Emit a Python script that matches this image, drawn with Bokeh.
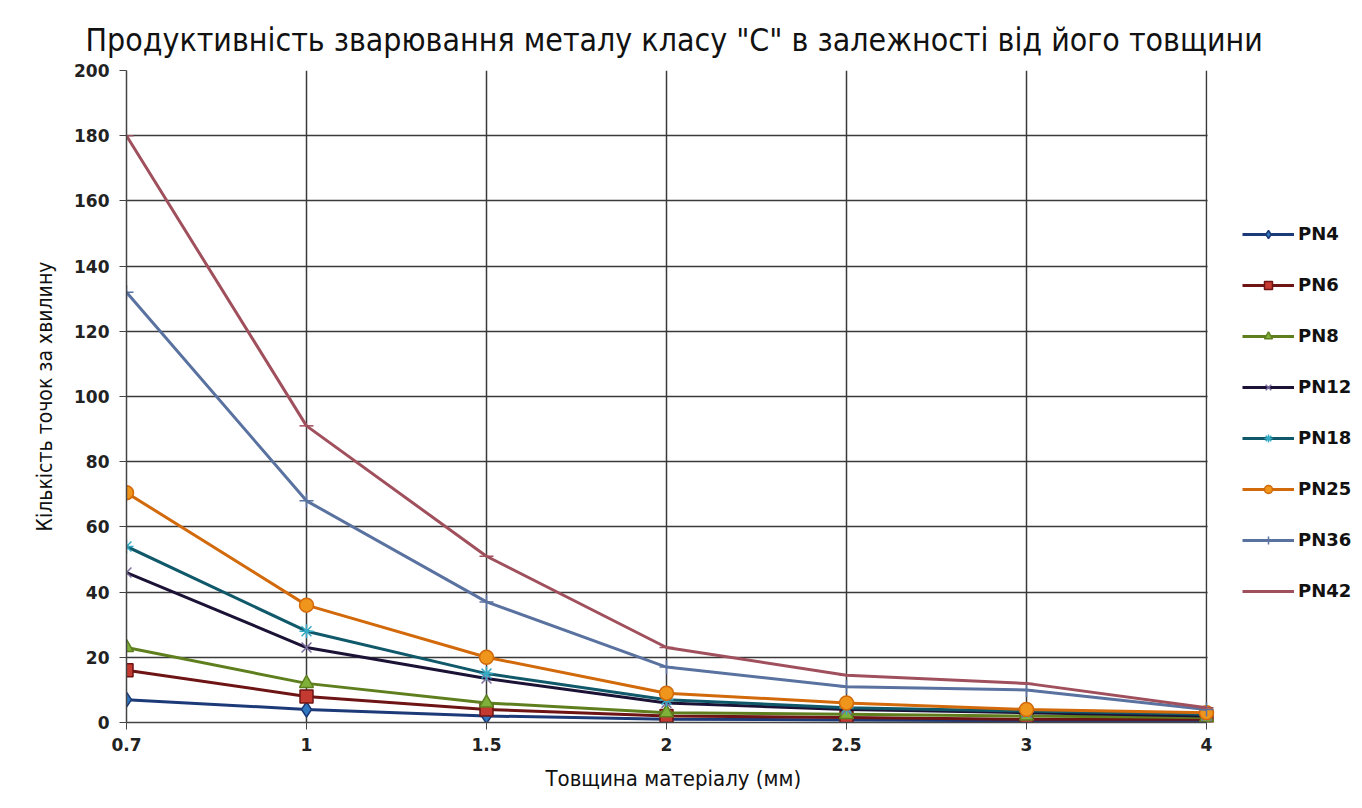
from bokeh.plotting import figure
from bokeh.models import Range1d, FixedTicker, Legend, Title, BoxAnnotation
from bokeh.embed import file_html
from bokeh.resources import INLINE

x_labels = ["0.7", "1", "1.5", "2", "2.5", "3", "4"]
pn4 = [7, 4, 2, 1, 0.8, 0.5, 0.5]
pn6 = [16, 8, 4, 2, 1.5, 1, 1]
pn8 = [23, 12, 6, 3, 2.5, 2, 1.5]
pn12 = [46, 23, 13.5, 6, 4, 3, 2]
pn18 = [54, 28, 15, 7, 4.5, 3.5, 2.5]
pn25 = [70.5, 36, 20, 9, 6, 4, 3]
pn36 = [132, 68, 37, 17, 11, 10, 4]
pn42 = [180, 91, 51, 23, 14.5, 12, 4.5]

series = [
    ("PN4", pn4, "#1c3a78", "#2f78c0", "diamond", 15),
    ("PN6", pn6, "#6e1414", "#c43a30", "square", 13),
    ("PN8", pn8, "#5f7f1e", "#7fb13a", "triangle", 14),
    ("PN12", pn12, "#1c1236", "#7b6d9e", "x", 14),
    ("PN18", pn18, "#10596a", "#35aac4", "asterisk", 14),
    ("PN25", pn25, "#d2690a", "#f0951c", "circle", 14),
    ("PN36", pn36, "#5a72a0", "#5a72a0", "cross", 14),
    ("PN42", pn42, "#a0505c", "#a0505c", "dash", 14),
]

xs = list(range(len(x_labels)))
last = len(x_labels) - 1

NARROW = "DejaVu Sans Condensed, DejaVu Sans"

# frame spans to the right edge; the legend sits in the extra strip right of the last category
FRAME_W = 1362 - 126
DATA_W = 1080
x_end = last * FRAME_W / DATA_W

p = figure(width=1362, height=808, output_backend="svg", toolbar_location=None,
           x_range=Range1d(0, x_end), y_range=Range1d(0, 200),
           min_border_left=126, min_border_right=0, min_border_top=70,
           min_border_bottom=86)
p.outline_line_color = None
p.background_fill_color = "white"

p.title = Title(text='Продуктивність зварювання металу класу "С" в залежності від його товщини',
                align="left", text_font=NARROW, text_font_size="31.8px",
                text_font_style="normal", text_color="#111111", standoff=26, offset=-41)

p.xaxis.ticker = FixedTicker(ticks=xs)
p.xaxis.major_label_overrides = {i: lab for i, lab in enumerate(x_labels)}
p.xaxis.bounds = (0, last)
p.yaxis.ticker = FixedTicker(ticks=list(range(0, 201, 20)))

for ax in (p.xaxis, p.yaxis):
    ax.major_label_text_font = "DejaVu Sans"
    ax.major_label_text_font_size = "17px"
    ax.major_label_text_font_style = "bold"
    ax.major_label_text_color = "#222222"
    ax.axis_label_text_font = NARROW
    ax.axis_label_text_font_size = "21px"
    ax.axis_label_text_font_style = "normal"
    ax.axis_label_text_color = "#111111"
    ax.axis_line_color = "#444444"
    ax.axis_line_width = 1.5
    ax.major_tick_line_color = "#444444"
    ax.major_tick_out = 7
    ax.major_tick_in = 0
    ax.minor_tick_line_color = None

p.yaxis.major_label_standoff = 10
p.yaxis.axis_label_standoff = 14
p.xaxis.major_label_standoff = 8

p.yaxis.axis_label = "Кількість точок за хвилину"

# x-axis title, centred under the data area (not under the legend strip)
p.add_layout(Title(text="Товщина матеріалу (мм)", align="left", offset=419,
                   text_font=NARROW, text_font_size="22px", text_font_style="normal",
                   text_color="#111111", standoff=20), "below")

p.xgrid.grid_line_color = "#3a3a3a"
p.xgrid.grid_line_width = 1.5
p.ygrid.grid_line_color = "#3a3a3a"
p.ygrid.grid_line_width = 1.5

# blank out horizontal grid lines beyond the last category (legend area)
p.add_layout(BoxAnnotation(left=last + 0.006, level="underlay", fill_color="white",
                           fill_alpha=1, line_color=None))

items = []
for name, vals, lc, mc, marker, size in series:
    r1 = p.line(xs, vals, line_color=lc, line_width=3)
    r2 = p.scatter(xs, vals, marker=marker, size=size, fill_color=mc,
                   line_color=lc if marker not in ("x", "asterisk", "cross", "dash") else mc,
                   line_width=1.5)
    items.append((name, [r1, r2]))

legend = Legend(items=items, location=(1116, 121), orientation="vertical")
legend.border_line_color = None
legend.background_fill_alpha = 0
legend.margin = 0
legend.padding = 6
legend.spacing = 30
legend.glyph_width = 52
legend.glyph_height = 20
legend.label_standoff = 4
legend.label_text_font = "DejaVu Sans"
legend.label_text_font_size = "18px"
legend.label_text_font_style = "bold"
legend.label_text_color = "#111111"
p.add_layout(legend, "center")

open("out.html", "w").write(file_html(p, INLINE))
